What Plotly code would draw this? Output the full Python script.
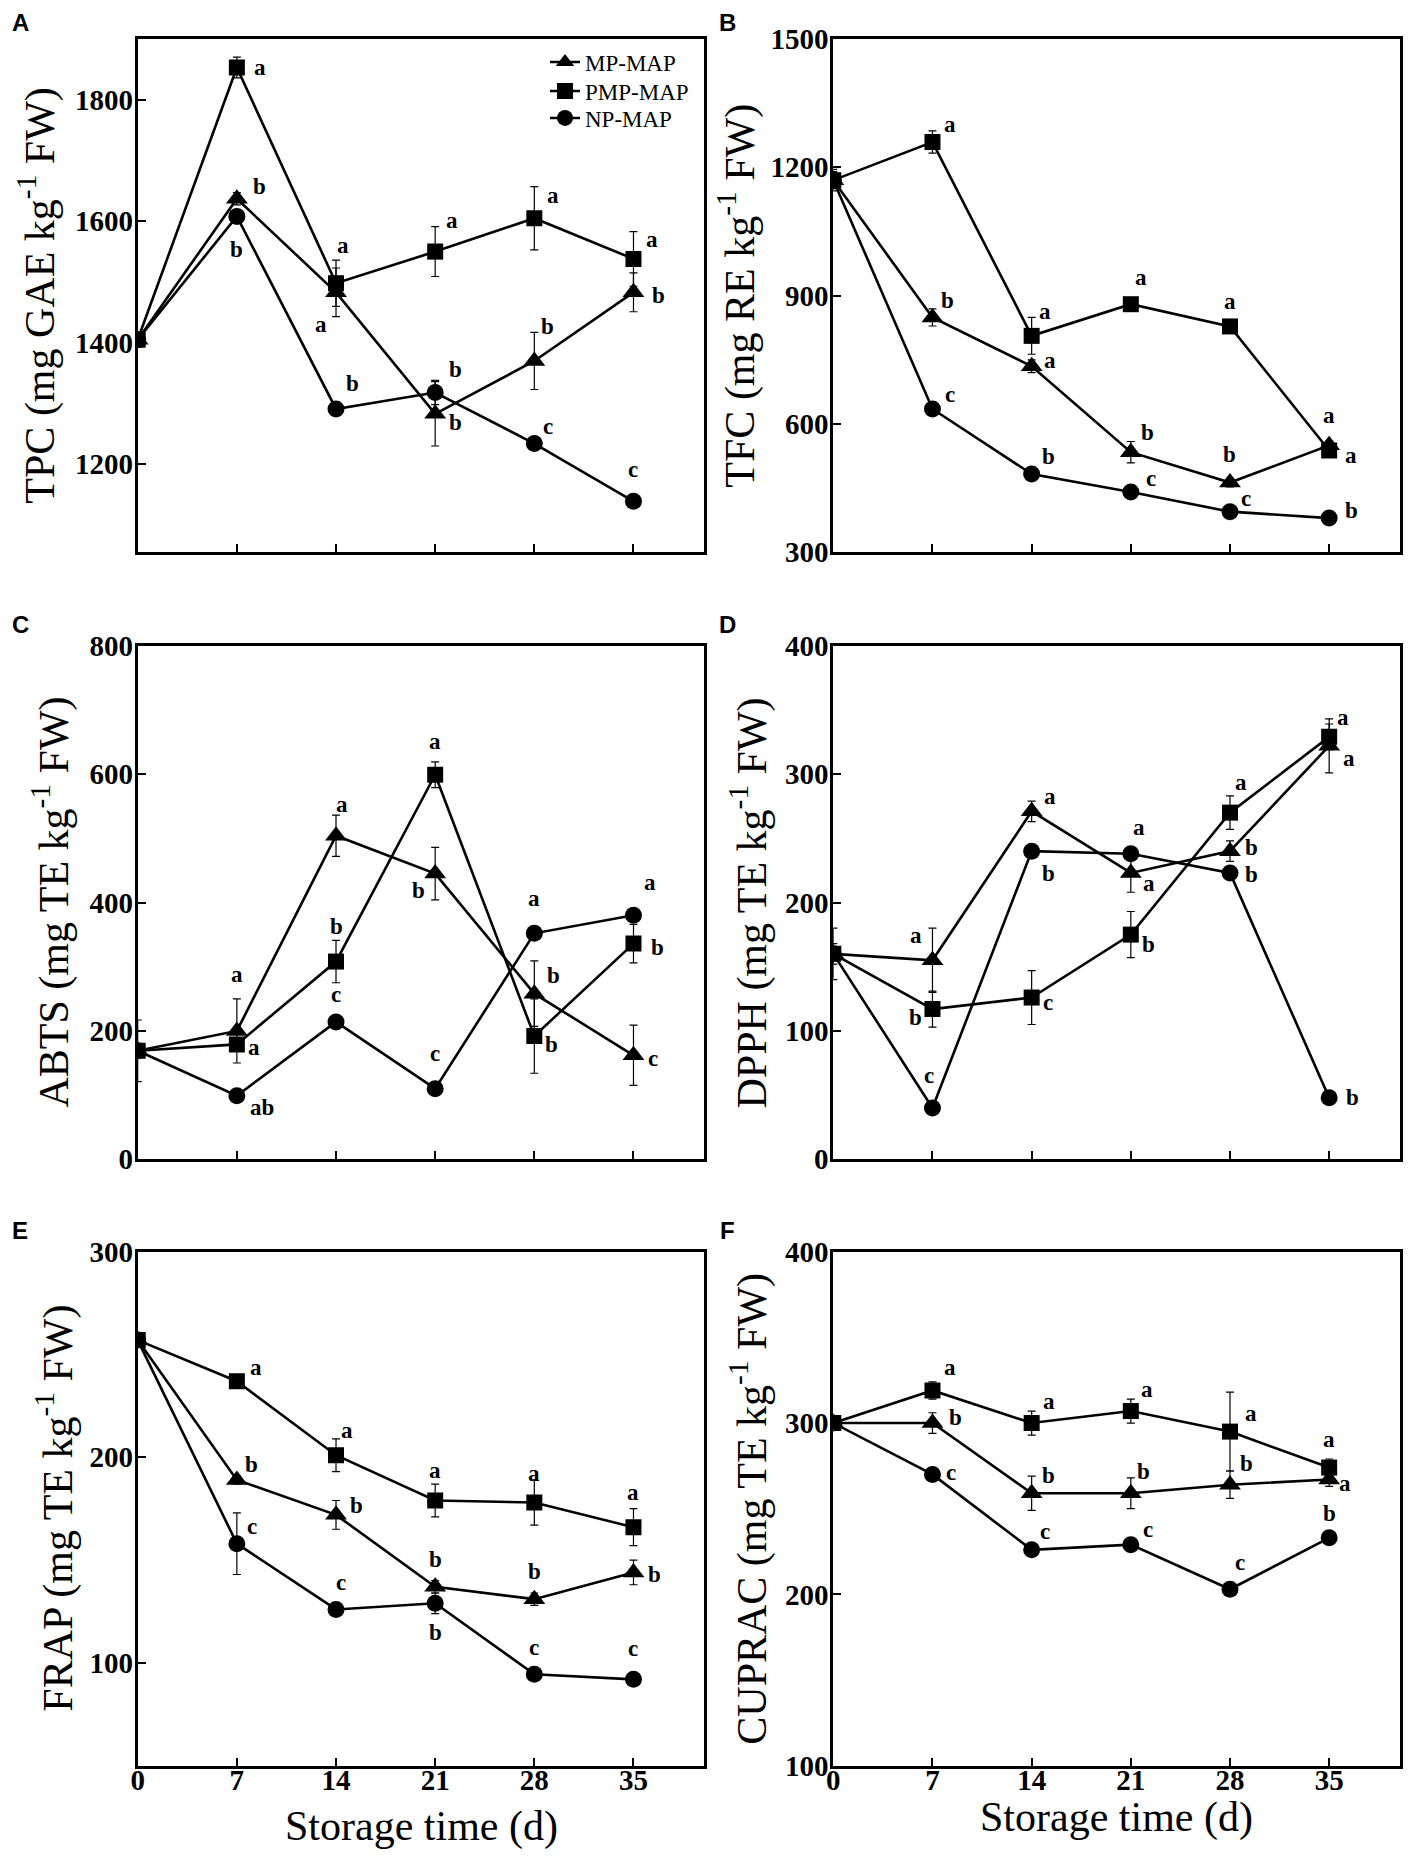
import plotly.graph_objects as go

# -------------------------------------
# DATA
# -------------------------------------

days = [0, 7, 14, 21, 28, 35]
series_names = ["MP-MAP", "PMP-MAP", "NP-MAP"]

# A - TPC
tpc_mp = [1405, 1637, 1483, 1283, 1370, 1483]
tpc_mp_err = [8, 10, 40, 53, 47, 32]
tpc_pmp = [1405, 1853, 1498, 1550, 1605, 1538]
tpc_pmp_err = [8, 17, 38, 41, 52, 45]
tpc_np = [1405, 1608, 1291, 1318, 1234, 1139]
tpc_np_err = [8, 8, 8, 20, 8, 8]
tpc_letters = [["", "b", "a", "b", "b", "b"],
               ["", "a", "a", "a", "a", "a"],
               ["", "b", "b", "b", "c", "c"]]

# B - TFC
tfc_mp = [1170, 849, 735, 534, 463, 550]
tfc_mp_err = [20, 20, 15, 25, 10, 10]
tfc_pmp = [1170, 1259, 806, 880, 828, 538]
tfc_pmp_err = [25, 26, 43, 10, 10, 10]
tfc_np = [1170, 635, 483, 441, 395, 380]
tfc_np_err = [10, 8, 8, 8, 8, 8]
tfc_letters = [["", "b", "a", "b", "b", "a"],
               ["", "a", "a", "a", "a", "a"],
               ["", "c", "b", "c", "c", "b"]]

# C - ABTS
abts_mp = [169, 200, 504, 445, 258, 162]
abts_mp_err = [48, 50, 32, 41, 51, 47]
abts_pmp = [169, 179, 308, 599, 192, 336]
abts_pmp_err = [8, 10, 33, 20, 58, 30]
abts_np = [169, 99, 214, 110, 352, 380]
abts_np_err = [5, 5, 5, 5, 5, 5]
abts_letters = [["", "a", "a", "b", "b", "c"],
                ["", "a", "b", "a", "b", "b"],
                ["", "ab", "c", "c", "a", "a"]]

# D - DPPH
dpph_mp = [160, 155, 271, 223, 240, 322]
dpph_mp_err = [20, 25, 8, 15, 8, 21]
dpph_pmp = [160, 117, 126, 175, 270, 329]
dpph_pmp_err = [8, 14, 21, 18, 13, 10]
dpph_np = [160, 40, 240, 238, 223, 48]
dpph_np_err = [5, 3, 3, 3, 3, 3]
dpph_letters = [["", "a", "a", "a", "b", "a"],
                ["", "b", "c", "b", "a", "a"],
                ["", "c", "b", "a", "b", "b"]]

# E - FRAP
frap_mp = [257, 189, 172, 137, 131, 144]
frap_mp_err = [2, 2, 7, 3, 3, 6]
frap_pmp = [257, 237, 201, 179, 178, 166]
frap_pmp_err = [2, 2, 8, 8, 11, 9]
frap_np = [257, 158, 126, 129, 94.5, 92]
frap_np_err = [2, 15, 2, 5, 2, 2]
frap_letters = [["", "b", "b", "b", "b", "b"],
                ["", "a", "a", "a", "a", "a"],
                ["", "c", "c", "b", "c", "c"]]

# F - CUPRAC
cuprac_mp = [300, 300, 259, 259, 264, 267]
cuprac_mp_err = [3, 6, 10, 9, 8, 4]
cuprac_pmp = [300, 319, 300, 307, 295, 274]
cuprac_pmp_err = [3, 5, 7, 7, 23, 5]
cuprac_np = [300, 270, 226, 229, 203, 233]
cuprac_np_err = [2, 2, 2, 2, 2, 2]
cuprac_letters = [["", "b", "b", "b", "b", "a"],
                  ["", "a", "a", "a", "a", "a"],
                  ["", "c", "c", "c", "c", "b"]]

# axis ticks
tpc_ticks = [1200, 1400, 1600, 1800]
tfc_ticks = [300, 600, 900, 1200, 1500]
abts_ticks = [0, 200, 400, 600, 800]
dpph_ticks = [0, 100, 200, 300, 400]
frap_ticks = [100, 200, 300]
cuprac_ticks = [100, 200, 300, 400]

# -------------------------------------
# LAYOUT SETTINGS
# -------------------------------------

# the html page puts the plot 8px in from the top-left corner
OFF = 8
FIG_W, FIG_H = 1417 - OFF, 1859 - OFF


def px_x(x):
    return (x - OFF) / FIG_W


def px_y(y):
    return 1 - (y - OFF) / FIG_H


col_px = [(137.7, 704.3), (833.3, 1400.0)]
row_px = [(39.0, 552.3), (645.7, 1159.3), (1251.7, 1765.7)]

symbols = ["triangle-up", "square", "circle"]
sizes = [19, 16, 17]
SERIF = "Liberation Serif"

# one legend per series so each row sits where the reference has it
legend_ids = ["legend", "legend2", "legend3"]
legend_rows = [62, 91, 118]

# letter offsets (px right, px down) from each point
letter_offsets = {
    "A": [[None, (23, -12), (-15, 32), (20, 9), (13, -34), (25, 3)],
          [None, (23, 0), (7, -38), (17, -31), (19, -23), (19, -19)],
          [None, (0, 33), (16, -25), (20, -23), (14, -17), (0, -32)]],
    "B": [[None, (15, -17), (18, -6), (17, -20), (0, -28), (0, -30)],
          [None, (18, -18), (13, -24), (10, -27), (0, -25), (22, 5)],
          [None, (18, -15), (17, -18), (20, -13), (16, -13), (22, -8)]],
    "C": [[None, (0, -56), (6, -31), (-17, 17), (19, -18), (20, 3)],
          [None, (17, 3), (0, -35), (0, -33), (17, 8), (24, 4)],
          [None, (25, 12), (0, -27), (0, -35), (0, -35), (17, -33)]],
    "D": [[None, (-16, -25), (18, -15), (18, 11), (22, -4), (20, 13)],
          [None, (-17, 8), (16, 5), (18, 10), (11, -30), (14, -19)],
          [None, (-3, -32), (17, 22), (8, -26), (22, 2), (23, 0)]],
    "E": [[None, (15, -15), (20, -9), (0, -27), (0, -28), (21, 2)],
          [None, (19, -14), (11, -25), (0, -30), (0, -29), (0, -35)],
          [None, (15, -17), (5, -27), (0, 29), (0, -27), (0, -31)]],
    "F": [[None, (23, -6), (17, -18), (13, -22), (17, -21), (16, 4)],
          [None, (18, -23), (17, -22), (16, -22), (21, -18), (0, -28)],
          [None, (19, -2), (13, -18), (17, -15), (10, -27), (0, -24)]],
}

panels = [
    dict(key="A", title="TPC (mg GAE kg<sup>-1</sup> FW)",
         values=[tpc_mp, tpc_pmp, tpc_np], errors=[tpc_mp_err, tpc_pmp_err, tpc_np_err],
         letters=tpc_letters, yrange=[1055, 1900], yticks=tpc_ticks, title_x=37),
    dict(key="B", title="TFC (mg RE kg<sup>-1</sup> FW)",
         values=[tfc_mp, tfc_pmp, tfc_np], errors=[tfc_mp_err, tfc_pmp_err, tfc_np_err],
         letters=tfc_letters, yrange=[300, 1500], yticks=tfc_ticks, title_x=737),
    dict(key="C", title="ABTS (mg TE kg<sup>-1</sup> FW)",
         values=[abts_mp, abts_pmp, abts_np], errors=[abts_mp_err, abts_pmp_err, abts_np_err],
         letters=abts_letters, yrange=[0, 800], yticks=abts_ticks, title_x=52),
    dict(key="D", title="DPPH (mg TE kg<sup>-1</sup> FW)",
         values=[dpph_mp, dpph_pmp, dpph_np], errors=[dpph_mp_err, dpph_pmp_err, dpph_np_err],
         letters=dpph_letters, yrange=[0, 400], yticks=dpph_ticks, title_x=750),
    dict(key="E", title="FRAP (mg TE kg<sup>-1</sup> FW)",
         values=[frap_mp, frap_pmp, frap_np], errors=[frap_mp_err, frap_pmp_err, frap_np_err],
         letters=frap_letters, yrange=[50, 300], yticks=frap_ticks, title_x=55),
    dict(key="F", title="CUPRAC (mg TE kg<sup>-1</sup> FW)",
         values=[cuprac_mp, cuprac_pmp, cuprac_np], errors=[cuprac_mp_err, cuprac_pmp_err, cuprac_np_err],
         letters=cuprac_letters, yrange=[100, 400], yticks=cuprac_ticks, title_x=749),
]

# -------------------------------------
# BUILD FIGURE
# -------------------------------------

fig = go.Figure()
annotations = []
layout_axes = {}

for i, p in enumerate(panels):
    r, c = divmod(i, 2)
    sfx = "" if i == 0 else str(i + 1)
    x0, x1 = col_px[c]
    top, bot = row_px[r]

    for s in range(3):
        fig.add_trace(go.Scatter(
            x=days, y=p["values"][s],
            error_y=dict(type="data", array=p["errors"][s], color="black",
                         thickness=1.2, width=4),
            mode="lines+markers",
            line=dict(color="black", width=2.6),
            marker=dict(symbol=symbols[s], size=sizes[s], color="black"),
            name=series_names[s], showlegend=(i == 0), legend=legend_ids[s],
            xaxis="x" + sfx, yaxis="y" + sfx,
        ))

        for d, lab in enumerate(p["letters"][s]):
            if not lab:
                continue
            dx, dy = letter_offsets[p["key"]][s][d]
            annotations.append(dict(
                x=days[d], y=p["values"][s][d], xref="x" + sfx, yref="y" + sfx,
                text=lab, showarrow=False, xshift=dx, yshift=-dy,
                font=dict(family=SERIF, size=23, color="black", weight="bold"),
            ))

    common = dict(showline=True, linewidth=3, linecolor="black", mirror=True,
                  showgrid=False, zeroline=False, ticks="inside", ticklen=8,
                  tickwidth=2, tickcolor="black", automargin=False,
                  tickfont=dict(family=SERIF, size=29, color="black", weight="bold"))

    layout_axes["xaxis" + sfx] = dict(
        domain=[px_x(x0), px_x(x1)], anchor="y" + sfx,
        range=[0, 40], tickvals=days, showticklabels=(r == 2),
        ticklabelstandoff=-14, **common)
    layout_axes["yaxis" + sfx] = dict(
        domain=[px_y(bot), px_y(top)], anchor="x" + sfx,
        range=p["yrange"], tickvals=p["yticks"], ticklabelstandoff=-4, **common)

    # y axis title
    annotations.append(dict(
        x=px_x(p["title_x"]), y=px_y((top + bot) / 2),
        xref="paper", yref="paper", text=p["title"], textangle=-90,
        showarrow=False, xanchor="center", yanchor="middle",
        font=dict(family=SERIF, size=42, color="black"),
    ))

    # panel letter
    annotations.append(dict(
        x=px_x(20 if c == 0 else 727), y=px_y(max(top - 21, 23)),
        xref="paper", yref="paper", text="<b>%s</b>" % p["key"],
        showarrow=False, xanchor="center", yanchor="middle", borderpad=0,
        font=dict(family="Liberation Sans", size=24, color="black"),
    ))

    # x axis title on the bottom row
    if r == 2:
        annotations.append(dict(
            x=px_x((x0 + x1) / 2), y=px_y(1826 if c == 0 else 1817),
            xref="paper", yref="paper", text="Storage time (d)",
            showarrow=False, xanchor="center", yanchor="middle",
            font=dict(family=SERIF, size=42, color="black"),
        ))

legend_layout = {}
for lid, row_y in zip(legend_ids, legend_rows):
    legend_layout[lid] = dict(
        x=px_x(545), y=px_y(row_y), xanchor="left", yanchor="middle",
        bgcolor="rgba(0,0,0,0)", borderwidth=0,
        font=dict(family=SERIF, size=23, color="black"))

fig.update_layout(
    width=FIG_W, height=FIG_H, autosize=False,
    margin=dict(l=0, r=0, t=0, b=0),
    paper_bgcolor="white", plot_bgcolor="white",
    showlegend=True,
    annotations=annotations,
    **legend_layout,
    **layout_axes,
)

fig.write_html("out.html")
